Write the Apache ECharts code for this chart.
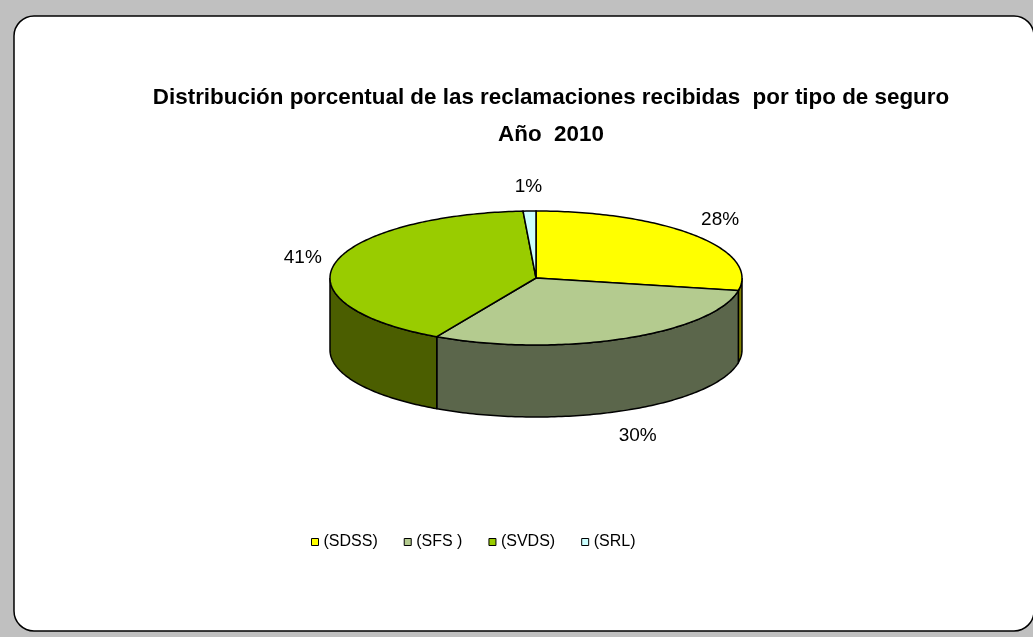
<!DOCTYPE html>
<html>
<head>
<meta charset="utf-8">
<script src="https://cdn.jsdelivr.net/npm/echarts@6/dist/echarts.min.js"></script>
<style>
  html, body { margin: 0; padding: 0; background: #c0c0c0; }
  #main { width: 1033px; height: 637px; }
</style>
</head>
<body>
<div id="main"></div>
<script>
// data
var categories = ['(SDSS)', '(SFS )', '(SVDS)', '(SRL)'];
var percents = [28, 30, 41, 1];
var topColors = ['#ffff00', '#b4cb8f', '#99cc00', '#ccffff'];
var sideColors = ['#808000', '#5b664b', '#4b5e00', '#669999'];

var FONT = '"Liberation Sans", Arial, sans-serif';

// 3d pie geometry
var cx = 536, cy = 278, rx = 206, ry = 67, depth = 72;
var total = percents.reduce(function (a, b) { return a + b; }, 0);

function pt(deg, dy) {
    var t = deg / 180 * Math.PI;
    return [cx + rx * Math.sin(t), cy - ry * Math.cos(t) + (dy || 0)];
}

function arc(a, b, dy) {
    var pts = [];
    var n = Math.max(2, Math.ceil(b - a));
    for (var k = 0; k <= n; k++) pts.push(pt(a + (b - a) * k / n, dy));
    return pts;
}

function makeRenderer(i) {
    return function (params, api) {
        var before = 0;
        for (var j = 0; j < i; j++) before += percents[j];
        var a = before / total * 360;
        var b = (before + api.value(0)) / total * 360;
        var children = [];

        // front wall (visible between 90 and 270 degrees)
        var wa = Math.max(a, 90), wb = Math.min(b, 270);
        if (wa < wb) {
            var wall = arc(wa, wb, 0).concat(arc(wa, wb, depth).reverse());
            children.push({
                type: 'polygon',
                shape: { points: wall },
                style: { fill: sideColors[i], stroke: '#000', lineWidth: 1.5 }
            });
        }

        // top face
        var top = [[cx, cy]].concat(arc(a, b, 0));
        children.push({
            type: 'polygon',
            shape: { points: top },
            style: { fill: topColors[i], stroke: '#000', lineWidth: 1.5 }
        });

        // percentage label
        var m = (a + b) / 2 / 180 * Math.PI;
        var lx = cx + rx * 1.16 * Math.sin(m);
        var ly = cy - (ry + 24) * Math.cos(m);
        if (Math.cos(m) < 0) ly += depth * 1.05;
        children.push({
            type: 'text',
            x: lx, y: ly,
            style: {
                text: Math.round(api.value(0) / total * 100) + '%',
                font: '19px ' + FONT,
                fill: '#000',
                align: 'center',
                verticalAlign: 'middle'
            }
        });

        return { type: 'group', children: children };
    };
}

var series = categories.map(function (name, i) {
    return {
        type: 'custom',
        name: name,
        coordinateSystem: 'none',
        silent: true,
        itemStyle: { color: topColors[i] },
        data: [percents[i]],
        renderItem: makeRenderer(i)
    };
});

var myChart = echarts.init(document.getElementById('main'));
var option = {
    backgroundColor: '#c0c0c0',
    animation: false,
    graphic: [{
        type: 'rect',
        z: -10,
        shape: { x: 14, y: 16, width: 1020, height: 615, r: 20 },
        style: { fill: '#fff', stroke: '#000', lineWidth: 1.5 }
    }],
    title: {
        text: 'Distribución porcentual de las reclamaciones recibidas  por tipo de seguro\nAño  2010',
        left: 546,
        top: 74,
        textAlign: 'center',
        textStyle: {
            fontFamily: FONT,
            fontWeight: 'bold',
            fontSize: 22.4,
            lineHeight: 37,
            color: '#000'
        }
    },
    legend: {
        data: categories,
        left: 311,
        top: 534,
        padding: 0,
        icon: 'rect',
        itemWidth: 7,
        itemHeight: 7,
        itemGap: 26,
        itemStyle: { borderColor: '#000', borderWidth: 1 },
        textStyle: { fontFamily: FONT, fontSize: 16, color: '#000' }
    },
    series: series
};
myChart.setOption(option);
</script>
</body>
</html>
